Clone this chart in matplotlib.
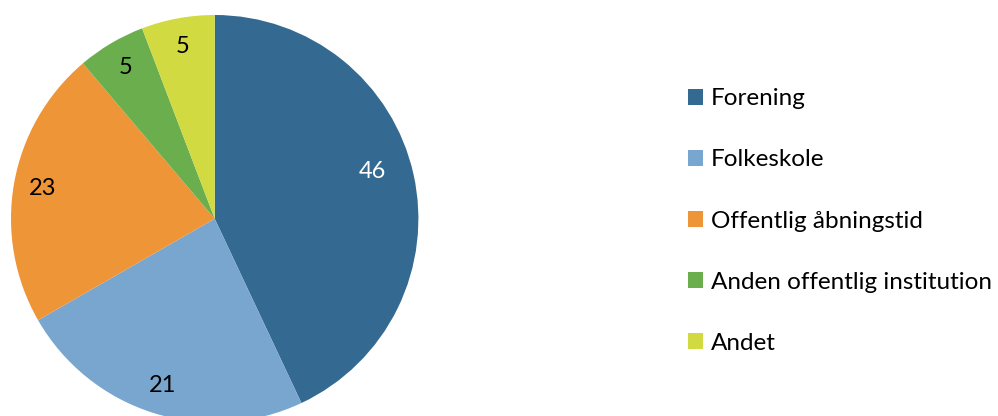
import numpy as np
import matplotlib
matplotlib.use("Agg")
import matplotlib.pyplot as plt
from matplotlib.patches import Patch

plt.rcParams['font.family'] = ['Lato', 'DejaVu Sans']

categories = ["Forening", "Folkeskole", "Offentlig åbningstid",
              "Anden offentlig institution", "Andet"]
# slice sizes as drawn in the picture, and the printed labels
shares = [43.0, 23.7, 22.1, 5.4, 5.8]
labels = ["46", "21", "23", "5", "5"]
colors = ["#346A91", "#79A6CE", "#EE9537", "#6AAE4D", "#D1DA40"]
label_colors = ["white", "black", "black", "black", "black"]

W, H = 998, 416
fig = plt.figure(figsize=(W / 100, H / 100), dpi=100)
ax = fig.add_axes([0, 0, 1, 1])

cx, cy, r = 214.7, H - 218.7, 203.7
wedges, _ = ax.pie(shares, colors=colors, startangle=90, counterclock=False,
                   center=(cx, cy), radius=r, frame=True,
                   wedgeprops=dict(linewidth=0))
ax.set_xlim(0, W)
ax.set_ylim(0, H)
ax.axis('off')

# labels near the outer end of each slice
for w, lab, c in zip(wedges, labels, label_colors):
    ang = np.deg2rad((w.theta1 + w.theta2) / 2)
    rr = 0.86 * r
    if lab == "46":
        ang += np.deg2rad(4)
        rr = 0.81 * r
    ax.text(cx + rr * np.cos(ang), cy + rr * np.sin(ang), lab, color=c,
            fontsize=17, ha='center', va='center')

handles = [Patch(facecolor=c, edgecolor='none') for c in colors]
ax.legend(handles, categories, loc='center left',
          bbox_to_anchor=(688 / W, 1 - 221 / H),
          frameon=False, fontsize=17.5, handlelength=0.62, handleheight=0.62,
          handletextpad=0.33, labelspacing=1.65, borderaxespad=0, borderpad=0)

fig.savefig("out.png", dpi=100)
